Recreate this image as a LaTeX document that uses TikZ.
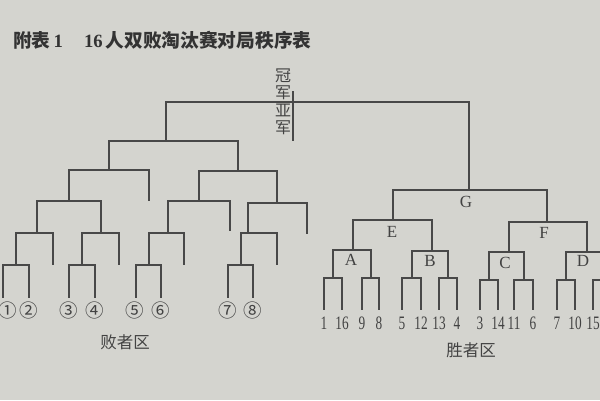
\documentclass[tikz,border=0pt]{standalone}
\usepackage{fontspec}
\setmainfont{Liberation Serif}
\newfontfamily\cjk{Noto Sans CJK SC}
\newfontfamily\numf[FakeStretch=0.7]{Liberation Serif}
\definecolor{bg}{RGB}{212,212,207}
\definecolor{lc}{RGB}{72,72,72}
\definecolor{tc}{RGB}{66,66,66}
\tikzset{
  ln/.style={line width=1.4pt, draw=lc, line cap=rect},
  num/.style={font=\numf\fontsize{19}{19}\selectfont, text=tc, inner sep=0pt},
  cnum/.style={font=\cjk\fontsize{18.5}{18.5}\selectfont, text=tc, inner sep=0pt},
  letter/.style={font=\fontsize{17}{17}\selectfont, text=tc, inner sep=0pt},
  zone/.style={font=\cjk\fontsize{16.5}{16.5}\selectfont, text=tc, inner sep=0pt},
}
\begin{document}
\begin{tikzpicture}[x=1pt,y=-1pt]
\fill[bg] (0,0) rectangle (600,400);
\useasboundingbox (0,0) rectangle (600,400);

% title
\node[anchor=west, inner sep=0pt, text=black!80, font=\fontsize{18.7}{18.7}\selectfont] (title) at (13,40)
  {{\cjk\bfseries 附表}\,{\bfseries 1}\hspace{21pt}{\bfseries 16}\hspace{3pt}{\cjk\bfseries 人双败淘汰赛对局秩序表}};

% ---------------- winner bracket ----------------
\foreach \i/\x in {1/324,2/342,3/362,4/379,5/402,6/421,7/439,8/457,9/480,10/498,11/514,12/533,13/557,14/575,15/593,16/611}
  \coordinate (w\i) at (\x,309);
\foreach \i/\t in {1/1,2/16,3/9,4/8,5/5,6/12,7/13,8/4,9/3,10/14,11/11,12/6,13/7,14/10,15/15}
  \node[num, anchor=north] (n\i) at ([yshift=-8pt]w\i) {\t};

\coordinate (wp1) at (333,278);
\coordinate (wp2) at (371,278);
\coordinate (wp3) at (412,278);
\coordinate (wp4) at (448,278);
\coordinate (wp5) at (489,280);
\coordinate (wp6) at (524,280);
\coordinate (wp7) at (566,280);
\coordinate (wp8) at (602,280);
\foreach \k/\a/\b in {1/1/2,2/3/4,3/5/6,4/7/8,5/9/10,6/11/12,7/13/14,8/15/16}
  \draw[ln] (w\a) |- (wp\k) -| (w\b);

\coordinate (A) at (353,250);
\coordinate (B) at (432,251);
\coordinate (C) at (509,252);
\coordinate (D) at (587,252);
\draw[ln] (wp1) |- (A) -| (wp2);
\draw[ln] (wp3) |- (B) -| (wp4);
\draw[ln] (wp5) |- (C) -| (wp6);
\draw[ln] (wp7) |- (D) -| (wp8);

\coordinate (E) at (393,220);
\coordinate (F) at (547,222);
\draw[ln] (A) |- (E) -| (B);
\draw[ln] (C) |- (F) -| (D);

\coordinate (G) at (469,190);
\draw[ln] (E) |- (G) -| (F);

\node[letter] (lA) at (351,260) {A};
\node[letter] (lB) at (430,261) {B};
\node[letter] (lC) at (505,263) {C};
\node[letter] (lD) at (583,261) {D};
\node[letter] (lE) at (392,232) {E};
\node[letter] (lF) at (544,233) {F};
\node[letter] (lG) at (466,202) {G};

% ---------------- loser bracket ----------------
\foreach \i/\x in {1/3,2/29,3/69,4/95,5/136,6/161,7/228,8/253}
  \coordinate (l\i) at (\x,297);
\node[cnum] (c1) at (8,310) {①};
\node[cnum] (c2) at (29,310) {②};
\node[cnum] (c3) at (69,310) {③};
\node[cnum] (c4) at (95,310) {④};
\node[cnum] (c5) at (135,310) {⑤};
\node[cnum] (c6) at (161,310) {⑥};
\node[cnum] (c7) at (228,310) {⑦};
\node[cnum] (c8) at (253,310) {⑧};

\coordinate (lp1) at (16,265);
\coordinate (lp2) at (82,265);
\coordinate (lp3) at (149,265);
\coordinate (lp4) at (241,265);
\draw[ln] (l1) |- (lp1) -| (l2);
\draw[ln] (l3) |- (lp2) -| (l4);
\draw[ln] (l5) |- (lp3) -| (l6);
\draw[ln] (l7) |- (lp4) -| (l8);

% free ends
\coordinate (f1) at (53,264);
\coordinate (f2) at (119,264);
\coordinate (f3) at (184,264);
\coordinate (f4) at (277,264);
\coordinate (f5) at (230,230);
\coordinate (f6) at (307,233);
\coordinate (f7) at (149,200);

\coordinate (lq1) at (37,233);
\coordinate (lq2) at (101,233);
\coordinate (lq3) at (168,233);
\coordinate (lq4) at (248,233);
\draw[ln] (lp1) |- (lq1) -| (f1);
\draw[ln] (lp2) |- (lq2) -| (f2);
\draw[ln] (lp3) |- (lq3) -| (f3);
\draw[ln] (lp4) |- (lq4) -| (f4);

\coordinate (lr1) at (69,201);
\coordinate (lr2) at (199,201);
\coordinate (lr3) at (277,203);
\draw[ln] (lq1) |- (lr1) -| (lq2);
\draw[ln] (lq3) |- (lr2) -| (f5);
\draw[ln] (lq4) |- (lr3) -| (f6);

\coordinate (ls1) at (109,170);
\coordinate (ls2) at (238,171);
\draw[ln] (lr1) |- (ls1) -| (f7);
\draw[ln] (lr2) |- (ls2) -| (lr3);

\coordinate (lt) at (166,141);
\draw[ln] (ls1) |- (lt) -| (ls2);

% ---------------- final ----------------
\coordinate (TL) at (166,102);
\coordinate (TR) at (469,102);
\draw[ln] (lt) -- (TL) -- (TR) -- (G);
\coordinate (ch1) at (293,92);
\coordinate (ch2) at (293,140);
\draw[ln] (ch1) -- (ch2);
\node[font=\cjk\fontsize{16}{17.5}\selectfont, text=tc, inner sep=0pt, align=center] (champ) at (283,102)
  {冠\\军\\亚\\军};

\node[zone] (lz) at (125,342) {败者区};
\node[zone] (wz) at (471,350) {胜者区};
\end{tikzpicture}
\end{document}
